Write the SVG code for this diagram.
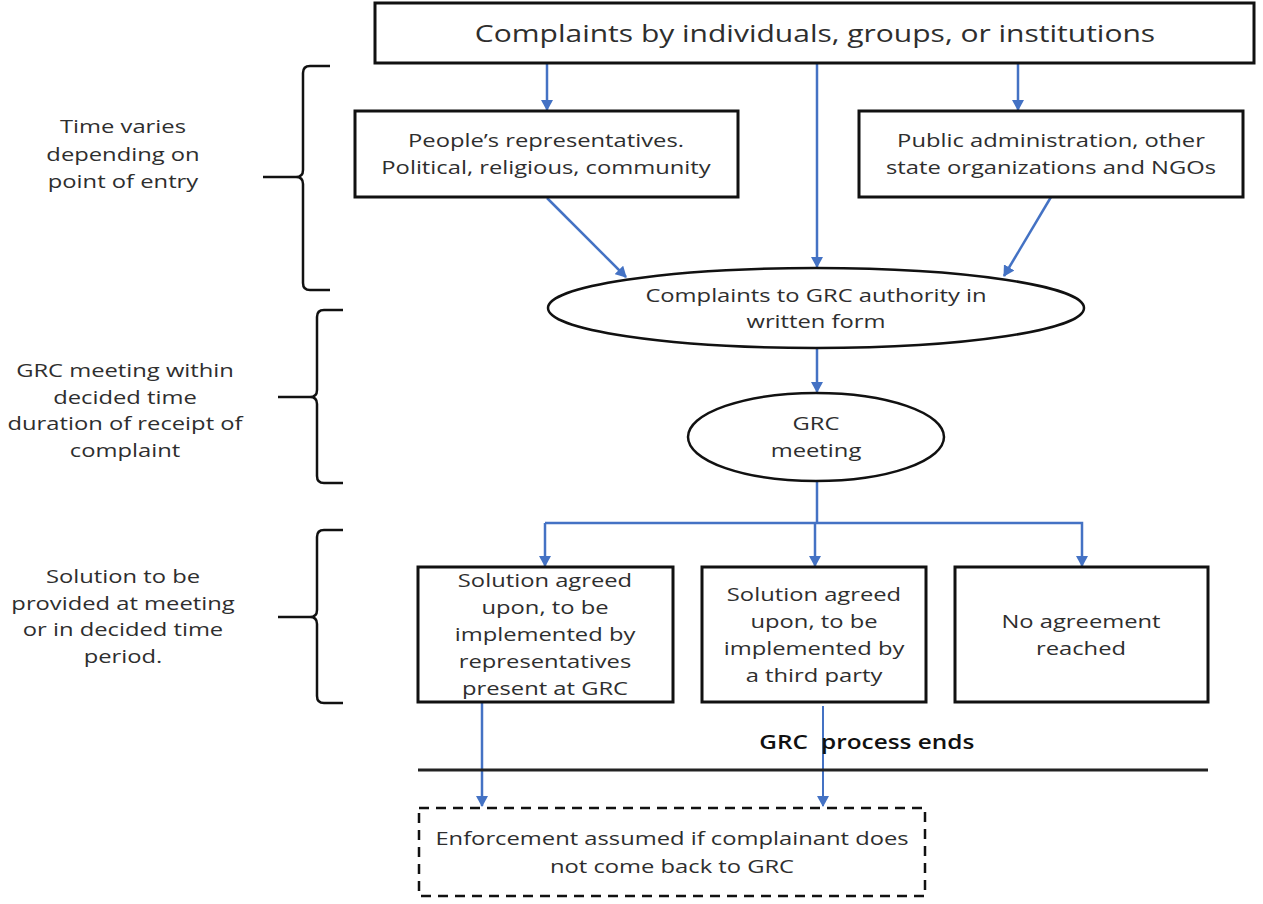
<svg xmlns="http://www.w3.org/2000/svg" width="1263" height="904" viewBox="0 0 1263 904">
<defs>
<marker id="ah" markerWidth="12" markerHeight="12" viewBox="0 0 12 12" refX="10" refY="6" orient="auto" markerUnits="userSpaceOnUse">
<path d="M0,0 L11,6 L0,12 z" fill="#4472C4"/>
</marker>
</defs>
<style>
.box{fill:#fff;stroke:#111;stroke-width:3}
.ell{fill:#fff;stroke:#111;stroke-width:2.5}
.t{font-family:"Open Sans","Liberation Sans",sans-serif;font-size:19px;fill:#2e2e2e;text-anchor:middle}
.b{font-weight:600;fill:#111;font-size:19.5px}
.c{fill:none;stroke:#4472C4;stroke-width:2.5;marker-end:url(#ah)}
.cl{fill:none;stroke:#4472C4;stroke-width:2.5}
.br{fill:none;stroke:#111;stroke-width:2.5}
</style>
<rect width="1263" height="904" fill="#fff"/>

<g id="braces">
<path class="br" d="M330,66 L310,66 Q303,66 303,73 L303,170 Q303,177 296,177 L263,177 M296,177 Q303,177 303,184 L303,283 Q303,290 310,290 L330,290"/>
<path class="br" d="M343,310 L324,310 Q317,310 317,317 L317,390 Q317,397 310,397 L278,397 M310,397 Q317,397 317,404 L317,476 Q317,483 324,483 L343,483"/>
<path class="br" d="M343,530 L324,530 Q317,530 317,537 L317,610 Q317,617 310,617 L278,617 M310,617 Q317,617 317,624 L317,696 Q317,703 324,703 L343,703"/>
</g>

<g id="label-time">
<text class="t" transform="translate(123,133) scale(1.25,1)">Time varies</text>
<text class="t" transform="translate(123,161) scale(1.25,1)">depending on</text>
<text class="t" transform="translate(123,188) scale(1.25,1)">point of entry</text>
</g>
<g id="label-meeting">
<text class="t" transform="translate(125,377) scale(1.25,1)">GRC meeting within</text>
<text class="t" transform="translate(125,404) scale(1.25,1)">decided time</text>
<text class="t" transform="translate(125,430) scale(1.25,1)">duration of receipt of</text>
<text class="t" transform="translate(125,457) scale(1.25,1)">complaint</text>
</g>
<g id="label-solution">
<text class="t" transform="translate(123,583) scale(1.25,1)">Solution to be</text>
<text class="t" transform="translate(123,610) scale(1.25,1)">provided at meeting</text>
<text class="t" transform="translate(123,636) scale(1.25,1)">or in decided time</text>
<text class="t" transform="translate(123,663) scale(1.25,1)">period.</text>
</g>

<g id="connectors">
<line class="c" x1="547" y1="63" x2="547" y2="110"/>
<line class="c" x1="1018" y1="63" x2="1018" y2="110"/>
<line class="c" x1="817" y1="63" x2="817" y2="267"/>
<line class="c" x1="547" y1="198" x2="626" y2="277"/>
<line class="c" x1="1051" y1="197" x2="1004" y2="276"/>
<line class="c" x1="817" y1="348" x2="817" y2="392"/>
<line class="cl" x1="817" y1="481" x2="817" y2="523"/>
<polyline class="c" points="545,523 1082,523 1082,566"/>
<line class="c" x1="545" y1="523" x2="545" y2="566"/>
<line class="c" x1="815" y1="523" x2="815" y2="566"/>
<line class="c" x1="482" y1="703" x2="482" y2="806"/>
<line class="c" x1="823" y1="706" x2="823" y2="806" style="stroke-width:2"/>
</g>

<g id="n-top">
<rect class="box" x="375" y="3" width="879" height="60"/>
<text class="t" transform="translate(815,42) scale(1.25,1)" style="font-size:24px">Complaints by individuals, groups, or institutions</text>
</g>
<g id="n-people">
<rect class="box" x="355" y="111" width="383" height="86"/>
<text class="t" transform="translate(546,147) scale(1.25,1)">People’s representatives.</text>
<text class="t" transform="translate(546,174) scale(1.25,1)">Political, religious, community</text>
</g>
<g id="n-public">
<rect class="box" x="859" y="111" width="384" height="86"/>
<text class="t" transform="translate(1051,147) scale(1.25,1)">Public administration, other</text>
<text class="t" transform="translate(1051,174) scale(1.25,1)">state organizations and NGOs</text>
</g>
<g id="n-written">
<ellipse class="ell" cx="816" cy="308" rx="268" ry="40"/>
<text class="t" transform="translate(816,302) scale(1.25,1)">Complaints to GRC authority in</text>
<text class="t" transform="translate(816,328) scale(1.25,1)">written form</text>
</g>
<g id="n-meeting">
<ellipse class="ell" cx="816" cy="437" rx="128" ry="44"/>
<text class="t" transform="translate(816,430) scale(1.25,1)">GRC</text>
<text class="t" transform="translate(816,457) scale(1.25,1)">meeting</text>
</g>
<g id="n-sol1">
<rect class="box" x="418" y="567" width="255" height="135"/>
<text class="t" transform="translate(545,587) scale(1.25,1)">Solution agreed</text>
<text class="t" transform="translate(545,614) scale(1.25,1)">upon, to be</text>
<text class="t" transform="translate(545,641) scale(1.25,1)">implemented by</text>
<text class="t" transform="translate(545,668) scale(1.25,1)">representatives</text>
<text class="t" transform="translate(545,695) scale(1.25,1)">present at GRC</text>
</g>
<g id="n-sol2">
<rect class="box" x="702" y="567" width="224" height="135"/>
<text class="t" transform="translate(814,601) scale(1.25,1)">Solution agreed</text>
<text class="t" transform="translate(814,628) scale(1.25,1)">upon, to be</text>
<text class="t" transform="translate(814,655) scale(1.25,1)">implemented by</text>
<text class="t" transform="translate(814,682) scale(1.25,1)">a third party</text>
</g>
<g id="n-noagree">
<rect class="box" x="955" y="567" width="253" height="135"/>
<text class="t" transform="translate(1081,628) scale(1.25,1)">No agreement</text>
<text class="t" transform="translate(1081,655) scale(1.25,1)">reached</text>
</g>

<g id="separator">
<text class="t b" transform="translate(808,749) scale(1.25,1)" style="text-anchor:end">GRC</text>
<text class="t b" transform="translate(821,749) scale(1.25,1)" style="text-anchor:start">process ends</text>
<line x1="418" y1="770" x2="1208" y2="770" stroke="#222" stroke-width="3"/>
</g>

<g id="n-enforce">
<rect x="419" y="808" width="506" height="88" fill="none" stroke="#111" stroke-width="2.5" stroke-dasharray="10,7"/>
<text class="t" transform="translate(672,845) scale(1.25,1)">Enforcement assumed if complainant does</text>
<text class="t" transform="translate(672,873) scale(1.25,1)">not come back to GRC</text>
</g>
</svg>
